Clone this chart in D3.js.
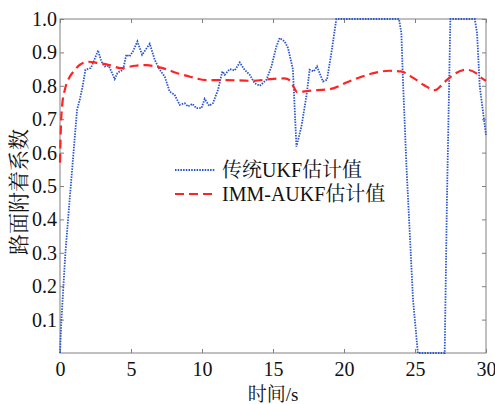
<!DOCTYPE html>
<html lang="zh">
<head>
<meta charset="UTF-8">
<title>路面附着系数</title>
<style>
  body { margin: 0; background: #fff; }
  svg { display: block; }
  .tick text { font-family: "Liberation Serif", "Times New Roman", serif; font-size: 20px; fill: #111; }
  .tick line { stroke: #808080; }
  .frame { fill: none; stroke: #808080; stroke-width: 1; }
  .lbl { font-family: "Liberation Serif", "Noto Serif CJK SC", "Noto Sans CJK SC", serif; fill: #111; }
</style>
</head>
<body>
<svg></svg>
<script src="https://d3js.org/d3.v7.min.js"></script>
<script>
// axis ticks
var xTicks = [0, 5, 10, 15, 20, 25, 30];
var yTicks = [0.1, 0.2, 0.3, 0.4, 0.5, 0.6, 0.7, 0.8, 0.9, 1.0];

// 传统UKF估计值
var ukfT = [0, 0.1, 0.38, 0.68, 1.2, 1.39, 1.6, 1.79, 2.16, 2.33, 2.68, 2.91, 3.15, 3.43, 3.62, 3.85,
  4.04, 4.2, 4.44, 4.67, 4.9, 5.14, 5.45, 5.78, 6.32, 6.67, 7.02, 7.37, 7.72, 8.07, 8.43, 8.78,
  9.02, 9.32, 9.6, 9.96, 10.19, 10.5, 10.77, 11.13, 11.43, 11.6, 11.95, 12.3, 12.66, 13.0, 13.36,
  13.7, 14.07, 14.54, 14.89, 15.24, 15.47, 15.82, 16.06, 16.4, 16.65, 17.0, 17.35, 17.58, 17.87,
  18.1, 18.28, 18.52, 18.8, 19.11, 19.46, 23.87, 24.04, 24.16, 24.4, 24.63, 24.86, 25.2, 27.09,
  27.25, 27.49, 29.21, 29.37, 29.56, 30];
var ukfV = [0, 0.1, 0.3, 0.46, 0.728, 0.758, 0.8, 0.848, 0.853, 0.868, 0.906, 0.873, 0.858, 0.86, 0.843, 0.82,
  0.838, 0.843, 0.848, 0.893, 0.888, 0.903, 0.933, 0.893, 0.926, 0.878, 0.848, 0.828, 0.783, 0.773, 0.743, 0.748,
  0.738, 0.746, 0.733, 0.733, 0.761, 0.74, 0.748, 0.788, 0.843, 0.833, 0.85, 0.846, 0.87, 0.848, 0.833,
  0.808, 0.8, 0.818, 0.858, 0.918, 0.943, 0.933, 0.913, 0.85, 0.618, 0.678, 0.768, 0.848, 0.843,
  0.858, 0.838, 0.813, 0.818, 0.898, 1.0, 1.0, 0.958, 0.808, 0.558, 0.36, 0.16, 0, 0,
  0.46, 1.0, 1.0, 0.958, 0.798, 0.653];

// IMM-AUKF估计值
var immT = [0, 0.05, 0.15, 0.35, 0.6, 1.0, 1.4, 2.0, 2.7, 3.4, 4.3, 5.3, 6.1, 6.7, 7.6, 8.1, 9.1,
  10.3, 11.7, 13.6, 14.8, 15.8, 16.2, 16.45, 16.7, 17.5, 19.0, 20.35, 22.0, 23.2, 24.0, 24.9, 25.6,
  26.4, 27.1, 27.8, 28.6, 29.3, 29.7, 30];
var immV = [0.57, 0.66, 0.74, 0.79, 0.82, 0.845, 0.863, 0.872, 0.868, 0.863, 0.853, 0.86, 0.862, 0.858, 0.848, 0.84, 0.828,
  0.817, 0.817, 0.815, 0.82, 0.822, 0.816, 0.797, 0.781, 0.785, 0.79, 0.813, 0.837, 0.845, 0.843, 0.823, 0.803,
  0.787, 0.812, 0.836, 0.848, 0.838, 0.823, 0.815];

var width = 495, height = 404;
var m = { left: 60, right: 9, top: 19, bottom: 51 };

var svg = d3.select("svg").attr("width", width).attr("height", height);

var x = d3.scaleLinear().domain([0, 30]).range([m.left, width - m.right]);
var y = d3.scaleLinear().domain([0, 1]).range([height - m.bottom, m.top]);

// axes with inward ticks
svg.append("g")
  .attr("transform", "translate(0," + y(0) + ")")
  .call(d3.axisBottom(x).tickValues(xTicks).tickSize(-4).tickPadding(9).tickSizeOuter(0))
  .call(g => g.select(".domain").remove());

svg.append("g")
  .attr("transform", "translate(" + x(0) + ",0)")
  .call(d3.axisLeft(y).tickValues(yTicks).tickSize(-4).tickPadding(3).tickSizeOuter(0)
    .tickFormat(d3.format(".1f")))
  .call(g => g.select(".domain").remove());

svg.append("g")
  .attr("transform", "translate(0," + y(1) + ")")
  .call(d3.axisTop(x).tickValues(xTicks).tickSize(-4).tickFormat("").tickSizeOuter(0))
  .call(g => g.select(".domain").remove());

svg.append("g")
  .attr("transform", "translate(" + x(30) + ",0)")
  .call(d3.axisRight(y).tickValues(yTicks).tickSize(-4).tickFormat("").tickSizeOuter(0))
  .call(g => g.select(".domain").remove());

svg.append("rect").attr("class", "frame")
  .attr("x", x(0)).attr("y", y(1))
  .attr("width", x(30) - x(0)).attr("height", y(0) - y(1));

// lines
var ukfLine = d3.line().x(d => x(d[0])).y(d => y(d[1]));
var immLine = d3.line().x(d => x(d[0])).y(d => y(d[1])).curve(d3.curveMonotoneX);

svg.append("path")
  .datum(ukfT.map((t, i) => [t, ukfV[i]]))
  .attr("d", ukfLine)
  .attr("fill", "none")
  .attr("stroke", "#2a55cc")
  .attr("stroke-width", 1.8)
  .attr("stroke-dasharray", "1.5,1.2");

svg.append("path")
  .datum(immT.map((t, i) => [t, immV[i]]))
  .attr("d", immLine)
  .attr("fill", "none")
  .attr("stroke", "#ff2323")
  .attr("stroke-width", 2.2)
  .attr("stroke-dasharray", "9,5");

// legend
var legend = [
  { name: "传统UKF估计值", color: "#2a55cc", dash: "1.5,1.2", w: 1.8 },
  { name: "IMM-AUKF估计值", color: "#ff2323", dash: "9,5", w: 2.2 }
];
var lg = svg.append("g").attr("transform", "translate(175,170)");
legend.forEach((d, i) => {
  lg.append("line")
    .attr("x1", 0).attr("x2", 40).attr("y1", i * 24).attr("y2", i * 24)
    .attr("stroke", d.color).attr("stroke-width", d.w).attr("stroke-dasharray", d.dash);
  lg.append("text").attr("class", "lbl")
    .attr("x", 47).attr("y", i * 24 + 7)
    .style("font-size", "20px")
    .text(d.name);
});

// axis titles
svg.append("text").attr("class", "lbl")
  .attr("x", x(15)).attr("y", 401)
  .attr("text-anchor", "middle")
  .style("font-size", "19px")
  .text("时间/s");

svg.append("text").attr("class", "lbl")
  .attr("transform", "translate(26,192) rotate(-90)")
  .attr("text-anchor", "middle")
  .style("font-size", "21px")
  .text("路面附着系数");
</script>
</body>
</html>
